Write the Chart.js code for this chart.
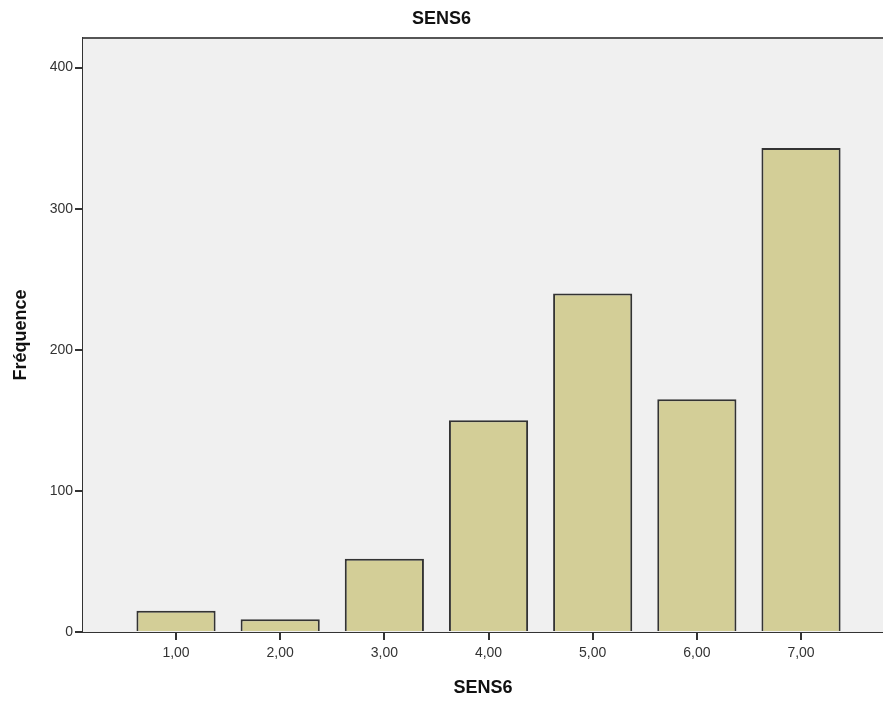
<!DOCTYPE html>
<html>
<head>
<meta charset="utf-8">
<script src="https://cdn.jsdelivr.net/npm/chart.js@4/dist/chart.umd.min.js"></script>
<style>
  html, body { margin: 0; padding: 0; background: #fff; }
  #wrap { width: 883px; height: 703px; }
</style>
</head>
<body>
<div id="wrap"><canvas id="c" width="883" height="703"></canvas></div>
<script>
const categories = [1, 2, 3, 4, 5, 6, 7];
const frequencies = [15, 9, 52, 150, 240, 165, 343];
const yTicks = [0, 100, 200, 300, 400];

const font = 'Liberation Sans, Arial, sans-serif';
const dark = '#333333';

// plot background + top frame, drawn under the bars
const plotBg = {
  id: 'plotBg',
  beforeDatasetsDraw(chart) {
    const { ctx, chartArea: a } = chart;
    ctx.save();
    ctx.fillStyle = '#f0f0f0';
    ctx.fillRect(a.left, a.top, a.right - a.left, a.bottom - a.top);
    ctx.strokeStyle = '#555';
    ctx.lineWidth = 2;
    ctx.beginPath();
    ctx.moveTo(a.left, a.top);
    ctx.lineTo(a.right, a.top);
    ctx.stroke();
    ctx.restore();
  }
};

new Chart(document.getElementById('c'), {
  type: 'bar',
  data: {
    datasets: [{
      label: 'Fréquence',
      data: categories.map((c, i) => ({ x: c, y: frequencies[i] })),
      backgroundColor: '#d3ce97',
      borderColor: '#333333',
      borderWidth: 2,
      barPercentage: 0.76,
      categoryPercentage: 1
    }]
  },
  plugins: [plotBg],
  options: {
    responsive: false,
    animation: false,
    layout: { padding: 0 },
    plugins: {
      legend: { display: false },
      tooltip: { enabled: false },
      title: {
        display: true,
        text: 'SENS6',
        color: '#111',
        font: { family: font, size: 18, weight: 'bold' },
        padding: { top: 8, bottom: 8.4 }
      }
    },
    scales: {
      x: {
        type: 'linear',
        offset: false,
        min: 0.107,
        max: 7.787,
        afterBuildTicks: s => { s.ticks = categories.map(v => ({ value: v })); },
        ticks: {
          color: dark,
          font: { family: font, size: 14 },
          padding: 5,
          maxRotation: 0,
          callback: v => v.toFixed(2).replace('.', ',')
        },
        grid: { offset: false, drawOnChartArea: false, color: dark, lineWidth: 2, tickLength: 8 },
        border: { color: dark, width: 2 },
        title: {
          display: true,
          text: 'SENS6',
          color: '#111',
          font: { family: font, size: 18, weight: 'bold' },
          padding: { top: 14, bottom: 4 }
        },
        afterFit: s => { s.height = 71; }
      },
      y: {
        min: 0,
        max: 421,
        afterBuildTicks: s => { s.ticks = yTicks.map(v => ({ value: v })); },
        ticks: {
          color: dark,
          font: { family: font, size: 14 },
          padding: 2
        },
        grid: { drawOnChartArea: false, color: dark, lineWidth: 2, tickLength: 8 },
        border: { color: dark, width: 2 },
        title: {
          display: true,
          text: 'Fréquence',
          color: '#111',
          font: { family: font, size: 18, weight: 'bold' },
          padding: { top: 10, bottom: 0 }
        },
        afterFit: s => { s.width = 83; }
      }
    }
  }
});
</script>
</body>
</html>
